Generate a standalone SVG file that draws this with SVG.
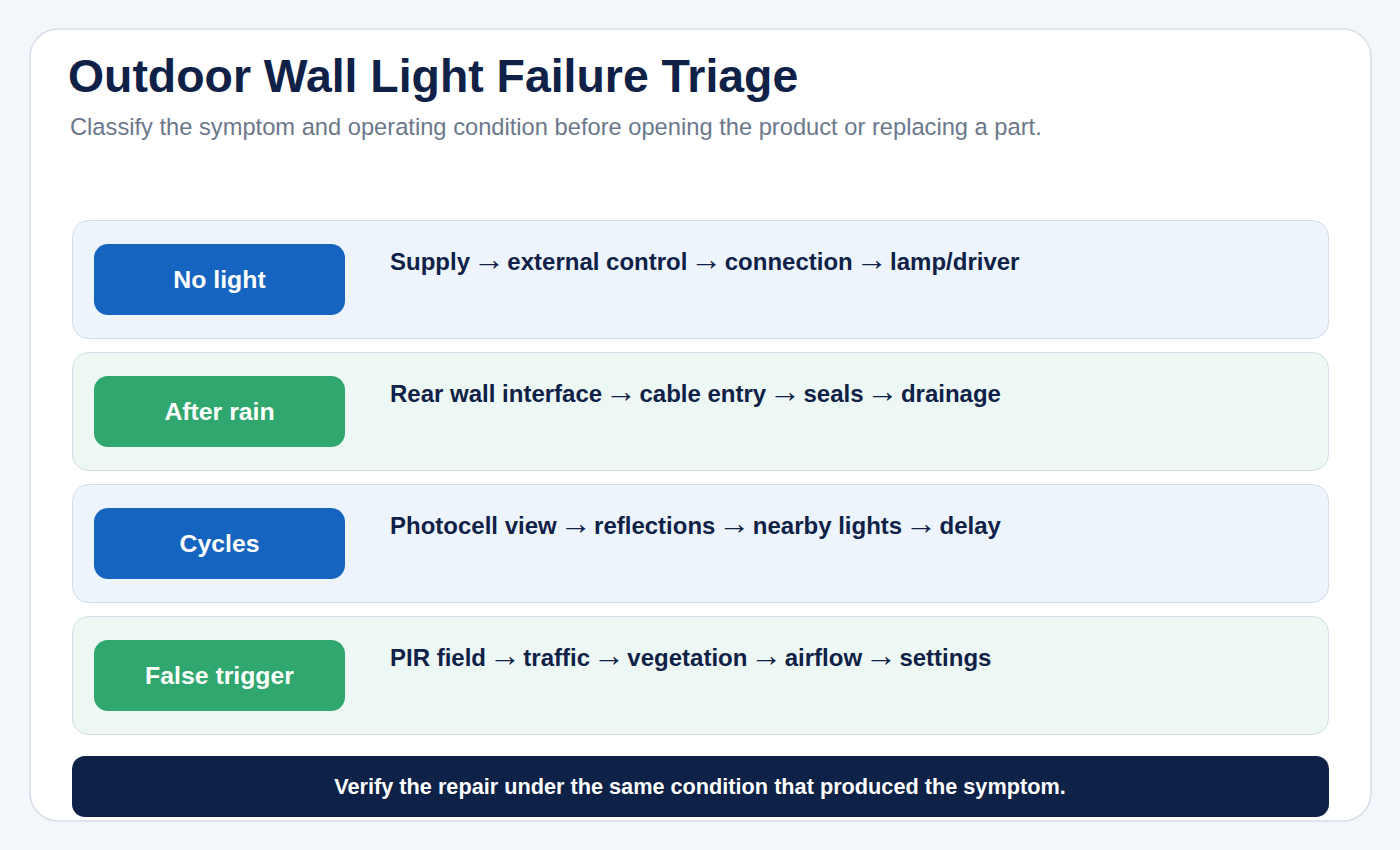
<svg xmlns="http://www.w3.org/2000/svg" width="1400" height="850" viewBox="0 0 1400 850">
<style>
.title{font-family:"Liberation Sans",Arial,sans-serif;font-weight:bold;font-size:46.4px;fill:#0f2147}
.sub{font-family:"Liberation Sans",Arial,sans-serif;font-size:23.7px;fill:#6b788c}
.row{stroke:#d3dce8;stroke-width:1}
.rb{fill:#edf4fc}
.rg{fill:#edf7f3}
.pb{fill:#1565c0}
.pg{fill:#2fa76e}
.pt{font-family:"Liberation Sans",Arial,sans-serif;font-weight:bold;font-size:24.8px;fill:#ffffff;text-anchor:middle}
.st{font-family:"Liberation Sans",Arial,sans-serif;font-weight:bold;font-size:24px;fill:#0f2147}
.ar{font-size:32px;font-weight:normal}
.bt{font-family:"Liberation Sans",Arial,sans-serif;font-weight:bold;font-size:21.7px;fill:#ffffff;text-anchor:middle}
</style>
<rect x="0" y="0" width="1400" height="850" fill="#f3f7fb"/>
<rect x="30" y="29" width="1341" height="792" rx="28" fill="#ffffff" stroke="#d6dee9" stroke-width="1.5"/>
<text class="title" x="68" y="92">Outdoor Wall Light Failure Triage</text>
<text class="sub" x="70" y="135">Classify the symptom and operating condition before opening the product or replacing a part.</text>
<g id="row-no-light">
<rect class="row rb" x="72.5" y="220.5" width="1256" height="118" rx="16"/>
<rect class="pb" x="94" y="244" width="251" height="71" rx="14"/>
<text class="pt" x="219.5" y="288">No light</text>
<text class="st" x="390" y="270">Supply <tspan class="ar" dx="-4">→</tspan><tspan dx="-4"> external control </tspan><tspan class="ar" dx="-4">→</tspan><tspan dx="-4"> connection </tspan><tspan class="ar" dx="-4">→</tspan><tspan dx="-4"> lamp/driver</tspan></text>
</g>
<g id="row-after-rain">
<rect class="row rg" x="72.5" y="352.5" width="1256" height="118" rx="16"/>
<rect class="pg" x="94" y="376" width="251" height="71" rx="14"/>
<text class="pt" x="219.5" y="420">After rain</text>
<text class="st" x="390" y="402">Rear wall interface <tspan class="ar" dx="-4">→</tspan><tspan dx="-4"> cable entry </tspan><tspan class="ar" dx="-4">→</tspan><tspan dx="-4"> seals </tspan><tspan class="ar" dx="-4">→</tspan><tspan dx="-4"> drainage</tspan></text>
</g>
<g id="row-cycles">
<rect class="row rb" x="72.5" y="484.5" width="1256" height="118" rx="16"/>
<rect class="pb" x="94" y="508" width="251" height="71" rx="14"/>
<text class="pt" x="219.5" y="552">Cycles</text>
<text class="st" x="390" y="534">Photocell view <tspan class="ar" dx="-4">→</tspan><tspan dx="-4"> reflections </tspan><tspan class="ar" dx="-4">→</tspan><tspan dx="-4"> nearby lights </tspan><tspan class="ar" dx="-4">→</tspan><tspan dx="-4"> delay</tspan></text>
</g>
<g id="row-false-trigger">
<rect class="row rg" x="72.5" y="616.5" width="1256" height="118" rx="16"/>
<rect class="pg" x="94" y="640" width="251" height="71" rx="14"/>
<text class="pt" x="219.5" y="684">False trigger</text>
<text class="st" x="390" y="666">PIR field <tspan class="ar" dx="-4">→</tspan><tspan dx="-4"> traffic </tspan><tspan class="ar" dx="-4">→</tspan><tspan dx="-4"> vegetation </tspan><tspan class="ar" dx="-4">→</tspan><tspan dx="-4"> airflow </tspan><tspan class="ar" dx="-4">→</tspan><tspan dx="-4"> settings</tspan></text>
</g>
<g id="banner">
<rect x="72" y="756" width="1257" height="61" rx="13" fill="#0e2147"/>
<text class="bt" x="700" y="794">Verify the repair under the same condition that produced the symptom.</text>
</g>
<g id="connectors"></g>
</svg>
